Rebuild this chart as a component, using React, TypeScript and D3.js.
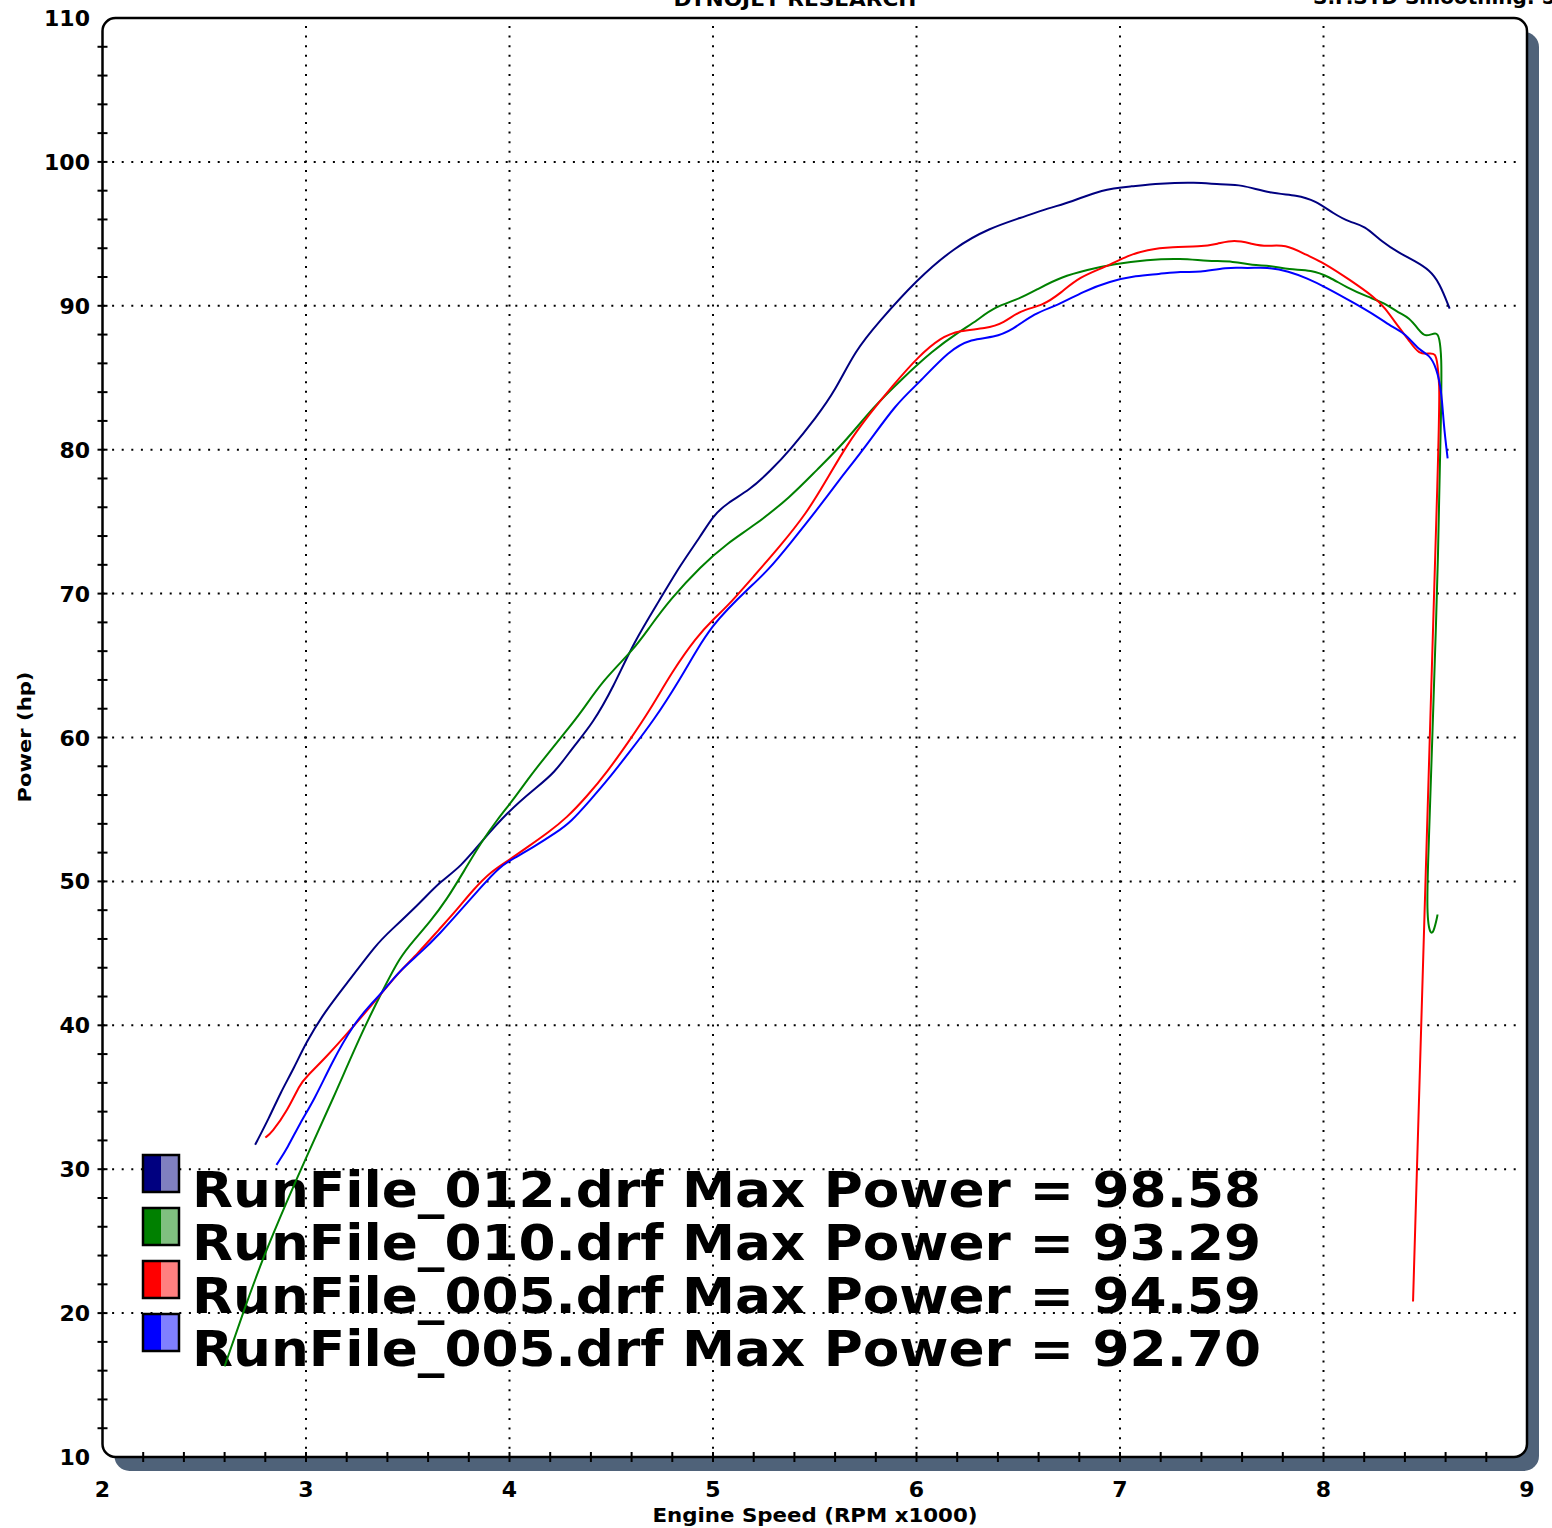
import React from "react";
import * as d3 from "d3";

// ---------- DATA ----------
const runNames = ["RunFile_012.drf", "RunFile_010.drf", "RunFile_005.drf", "RunFile_005.drf"];
const maxPowers = ["98.58", "93.29", "94.59", "92.70"];
const lineColors = ["#000080", "#008000", "#ff0000", "#0000ff"];
const lightColors = ["#8080c0", "#80c080", "#ff8080", "#8080ff"];

const xTicks = [2, 3, 4, 5, 6, 7, 8, 9];
const yTicks = [10, 20, 30, 40, 50, 60, 70, 80, 90, 100, 110];

const run012Rpm = [2.75, 2.82, 2.874, 2.94, 3.0, 3.09, 3.2, 3.35, 3.41, 3.56, 3.66, 3.76, 3.87, 3.99, 4.12, 4.22, 4.31, 4.41, 4.51, 4.61, 4.74, 4.84, 4.94, 5.0, 5.07, 5.18, 5.28, 5.38, 5.51, 5.6, 5.7, 5.81, 6.0, 6.19, 6.36, 6.51, 6.65, 6.76, 6.91, 7.06, 7.19, 7.37, 7.5, 7.59, 7.74, 7.87, 7.96, 8.05, 8.13, 8.2, 8.29, 8.37, 8.45, 8.52, 8.57, 8.62];
const run012Hp = [31.7, 33.6, 35.3, 37.0, 38.8, 40.9, 42.9, 45.7, 46.5, 48.5, 50.0, 51.0, 52.9, 54.8, 56.4, 57.5, 59.3, 61.0, 63.5, 66.6, 69.6, 72.0, 74.0, 75.4, 76.3, 77.2, 78.5, 80.0, 82.3, 84.1, 86.9, 88.8, 91.8, 94.1, 95.4, 96.1, 96.8, 97.2, 98.1, 98.3, 98.5, 98.6, 98.4, 98.45, 97.8, 97.7, 97.3, 96.4, 95.8, 95.6, 94.4, 93.7, 93.1, 92.5, 91.6, 89.8];

const run010Rpm = [2.6, 2.69, 2.79, 2.91, 3.0, 3.13, 3.28, 3.38, 3.46, 3.53, 3.61, 3.69, 3.78, 3.86, 3.94, 4.02, 4.1, 4.19, 4.27, 4.35, 4.46, 4.61, 4.69, 4.79, 4.94, 5.07, 5.2, 5.38, 5.51, 5.64, 5.79, 5.92, 6.08, 6.21, 6.3, 6.38, 6.51, 6.6, 6.71, 6.84, 6.97, 7.13, 7.3, 7.43, 7.56, 7.65, 7.74, 7.83, 7.94, 8.03, 8.11, 8.22, 8.3, 8.37, 8.42, 8.47, 8.5, 8.555, 8.57, 8.58, 8.58, 8.565, 8.535, 8.51, 8.51, 8.515, 8.525, 8.54, 8.56, 8.56];
const run010Hp = [16.3, 20.0, 23.9, 27.9, 30.8, 34.8, 39.7, 42.5, 44.7, 45.9, 47.2, 48.7, 50.8, 52.7, 54.3, 55.7, 57.3, 58.9, 60.3, 61.7, 64.0, 66.1, 67.7, 69.6, 71.9, 73.5, 74.7, 76.7, 78.6, 80.4, 83.0, 84.8, 86.9, 88.2, 89.0, 89.9, 90.5, 91.2, 92.0, 92.5, 92.9, 93.2, 93.3, 93.1, 93.1, 92.8, 92.8, 92.5, 92.5, 92.0, 91.3, 90.6, 90.2, 89.5, 89.2, 88.3, 87.8, 88.2, 87.8, 86.4, 84.0, 73.0, 60.0, 50.0, 48.0, 47.0, 46.4, 46.4, 47.6, 47.7];

const run005aRpm = [2.8, 2.83, 2.91, 2.97, 3.0, 3.1, 3.22, 3.37, 3.45, 3.55, 3.65, 3.74, 3.82, 3.91, 4.0, 4.1, 4.19, 4.28, 4.38, 4.48, 4.59, 4.69, 4.8, 4.92, 5.0, 5.07, 5.2, 5.33, 5.46, 5.55, 5.66, 5.77, 5.88, 6.01, 6.12, 6.21, 6.34, 6.43, 6.51, 6.62, 6.71, 6.8, 6.93, 7.04, 7.13, 7.26, 7.39, 7.48, 7.56, 7.65, 7.72, 7.81, 7.92, 8.0, 8.13, 8.25, 8.3, 8.37, 8.42, 8.47, 8.52, 8.55, 8.56, 8.57, 8.57, 8.505, 8.44, 8.44];
const run005aHp = [32.2, 32.5, 34.1, 35.9, 36.4, 37.8, 39.7, 42.2, 43.6, 45.0, 46.6, 48.0, 49.4, 50.7, 51.5, 52.5, 53.4, 54.4, 55.9, 57.6, 59.8, 61.9, 64.6, 67.0, 68.2, 69.1, 71.2, 73.3, 75.6, 77.7, 80.4, 82.5, 84.4, 86.5, 87.8, 88.3, 88.4, 88.8, 89.7, 90.0, 90.9, 92.0, 92.7, 93.5, 93.9, 94.1, 94.1, 94.3, 94.6, 94.3, 94.1, 94.3, 93.5, 93.0, 91.8, 90.6, 89.9, 88.5, 87.6, 86.6, 86.7, 86.7, 86.0, 84.6, 82.0, 52.0, 20.8, 20.8];

const run005bRpm = [2.855, 2.91, 2.97, 3.04, 3.13, 3.23, 3.32, 3.37, 3.46, 3.56, 3.66, 3.76, 3.86, 3.95, 4.02, 4.12, 4.23, 4.3, 4.4, 4.48, 4.59, 4.71, 4.84, 4.92, 5.0, 5.07, 5.17, 5.27, 5.38, 5.51, 5.62, 5.75, 5.9, 6.01, 6.16, 6.27, 6.38, 6.47, 6.58, 6.69, 6.82, 6.95, 7.08, 7.19, 7.3, 7.39, 7.52, 7.63, 7.72, 7.83, 7.92, 8.01, 8.15, 8.27, 8.34, 8.4, 8.47, 8.52, 8.555, 8.58, 8.59, 8.61];
const run005bHp = [30.3, 31.5, 33.2, 34.8, 37.5, 40.0, 41.5, 42.2, 43.8, 45.0, 46.4, 48.0, 49.6, 51.0, 51.6, 52.4, 53.4, 54.1, 55.7, 57.0, 59.0, 61.2, 64.1, 66.1, 67.8, 68.9, 70.3, 71.6, 73.5, 75.8, 77.9, 80.2, 83.2, 84.6, 86.9, 87.7, 87.8, 88.3, 89.5, 90.0, 91.0, 91.7, 92.1, 92.2, 92.4, 92.3, 92.7, 92.6, 92.7, 92.4, 91.9, 91.3, 90.2, 89.2, 88.5, 88.1, 86.9, 86.6, 85.7, 84.1, 81.8, 79.4];

const seriesRpm = [run012Rpm, run010Rpm, run005aRpm, run005bRpm];
const seriesHp = [run012Hp, run010Hp, run005aHp, run005bHp];

// ---------- LAYOUT ----------
const W = 1552;
const H = 1528;
const L = 102.5, R = 1527, T = 18, B = 1457;
const FONT = "'DejaVu Sans', Verdana, sans-serif";

export default function App() {
  const x = d3.scaleLinear().domain([2, 9]).range([L, R]);
  const y = d3.scaleLinear().domain([10, 110]).range([B, T]);

  const line = d3
    .line<[number, number]>()
    .x((d) => x(d[0]))
    .y((d) => y(d[1]))
    .curve(d3.curveBasis);

  const xMinor = d3.range(2.2, 8.9, 0.2);
  const yMinor = d3.range(12, 109, 2);

  const gridX = xTicks.filter((v) => v > 2 && v < 9);
  const gridY = yTicks.filter((v) => v > 10 && v < 110);

  const radius = 13;

  return (
    <svg
      width={W}
      height={H}
      style={{ position: "absolute", left: 0, top: 0, display: "block", background: "#fff" }}
      fontFamily={FONT}
    >
      {/* shadow */}
      <rect x={L + 12} y={T + 14} width={R - L} height={B - T} rx={radius + 2} fill="#4f6279" />
      {/* plot area */}
      <rect x={L} y={T} width={R - L} height={B - T} rx={radius} fill="#fff" />

      {/* grid */}
      <g stroke="#000" strokeWidth={2} strokeDasharray="2,7.6">
        {gridX.map((v) => (
          <line key={"gx" + v} x1={x(v)} x2={x(v)} y1={T + 8} y2={B} />
        ))}
        {gridY.map((v) => (
          <line key={"gy" + v} x1={L} x2={R - 6} y1={y(v)} y2={y(v)} />
        ))}
      </g>

      {/* legend */}
      <g>
        {runNames.map((n, i) => {
          const top = 1155 + i * 53;
          return (
            <g key={"lg" + i}>
              <rect x={143} y={top} width={18} height={37} fill={lineColors[i]} />
              <rect x={161} y={top} width={18} height={37} fill={lightColors[i]} />
              <rect x={143} y={top} width={36} height={37} fill="none" stroke="#000" strokeWidth={2.5} />
              <text
                x={192}
                y={top + 52}
                fontSize={50}
                fontWeight="bold"
                textLength={1069}
                lengthAdjust="spacingAndGlyphs"
                fill="#000"
              >
                {`${n} Max Power = ${maxPowers[i]}`}
              </text>
            </g>
          );
        })}
      </g>

      {/* curves */}
      <g fill="none" strokeWidth={2} strokeLinejoin="round">
        {seriesRpm.map((rpm, i) => {
          const pts: [number, number][] = rpm.map((r, j) => [r, seriesHp[i][j]]);
          return <path key={"s" + i} d={line(pts) || ""} stroke={lineColors[i]} />;
        })}
      </g>

      {/* frame */}
      <rect x={L} y={T} width={R - L} height={B - T} rx={radius} fill="none" stroke="#000" strokeWidth={2.5} />

      {/* minor ticks */}
      <g stroke="#000" strokeWidth={2}>
        {xMinor.map((v, i) => (
          <line key={"xt" + i} x1={x(v)} x2={x(v)} y1={B - 5} y2={B + 5} />
        ))}
        {yMinor.map((v, i) => (
          <line key={"yt" + i} x1={L - 5} x2={L + 5} y1={y(v)} y2={y(v)} />
        ))}
      </g>

      {/* tick labels */}
      <g fontSize={22} fontWeight="bold" fill="#000">
        {yTicks.map((v) => (
          <text key={"yl" + v} x={90} y={y(v) + 8} textAnchor="end">
            {v}
          </text>
        ))}
        {xTicks.map((v) => (
          <text key={"xl" + v} x={x(v)} y={1497} textAnchor="middle">
            {v}
          </text>
        ))}
      </g>

      {/* axis titles */}
      <text x={815} y={1522} fontSize={19} fontWeight="bold" textAnchor="middle" textLength={325} lengthAdjust="spacingAndGlyphs">
        Engine Speed (RPM x1000)
      </text>
      <text
        transform="translate(31,737) rotate(-90)"
        fontSize={18}
        fontWeight="bold"
        textAnchor="middle"
        textLength={131}
        lengthAdjust="spacingAndGlyphs"
      >
        Power (hp)
      </text>

      {/* header texts, cut by the top edge as in the original */}
      <text x={795} y={6} fontSize={20} fontWeight="bold" textAnchor="middle" textLength={243} lengthAdjust="spacingAndGlyphs">
        DYNOJET RESEARCH
      </text>
      <text x={1313} y={4} fontSize={20} fontWeight="bold">
        S.F.STD  Smoothing: 5
      </text>
    </svg>
  );
}
